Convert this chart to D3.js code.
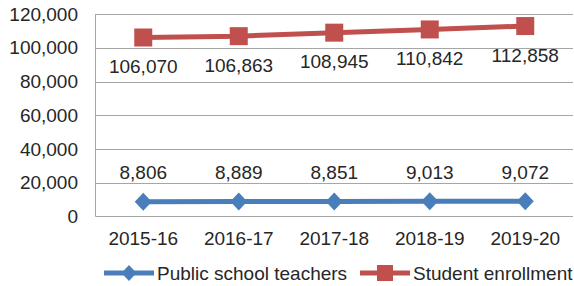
<!DOCTYPE html>
<html>
<head>
<meta charset="utf-8">
<script src="https://cdn.jsdelivr.net/npm/d3@7"></script>
<style>
  body { margin: 0; background: #fff; }
  svg text { font-family: "Liberation Sans", Arial, sans-serif; fill: #262626; }
</style>
</head>
<body>
<svg id="chart" width="574" height="286"></svg>
<script>
// data
var years = ["2015-16", "2016-17", "2017-18", "2018-19", "2019-20"]
var teachers = [8806, 8889, 8851, 9013, 9072]
var enrollment = [106070, 106863, 108945, 110842, 112858]
var yTicks = [0, 20000, 40000, 60000, 80000, 100000, 120000]

var svg = d3.select("#chart")
var mLeft = 95.5, mRight = 573, mTop = 14, mBottom = 216.5
var fs = 19

var x = d3.scaleBand().domain(years).range([mLeft, mRight])
var y = d3.scaleLinear().domain([0, 120000]).range([mBottom, mTop])
var fmt = d3.format(",")

// gridlines
svg.append("g").selectAll("line").data(yTicks.slice(1)).join("line")
  .attr("x1", mLeft).attr("x2", mRight)
  .attr("y1", d => Math.round(y(d)) + 0.5).attr("y2", d => Math.round(y(d)) + 0.5)
  .attr("stroke", "#a6a6a6").attr("stroke-width", 1)

// axes lines
svg.append("line").attr("x1", mLeft).attr("x2", mLeft).attr("y1", mTop).attr("y2", mBottom)
  .attr("stroke", "#a6a6a6")
svg.append("line").attr("x1", mLeft).attr("x2", mRight).attr("y1", mBottom).attr("y2", mBottom)
  .attr("stroke", "#a6a6a6")

// y labels
svg.append("g").selectAll("text").data(yTicks).join("text")
  .attr("x", 78).attr("y", d => y(d)).attr("dy", "0.35em")
  .attr("text-anchor", "end").attr("font-size", fs)
  .text(d => fmt(d))

// x labels
svg.append("g").selectAll("text").data(years).join("text")
  .attr("x", d => x(d) + x.bandwidth() / 2).attr("y", 238).attr("dy", "0.35em")
  .attr("text-anchor", "middle").attr("font-size", fs)
  .text(d => d)

var blue = "#4a7ebb", red = "#c0504d"
var cx = d => x(d) + x.bandwidth() / 2

var line = d3.line().x((d, i) => cx(years[i])).y(d => y(d))

// teachers
svg.append("path").datum(teachers).attr("d", line)
  .attr("fill", "none").attr("stroke", blue).attr("stroke-width", 5)
svg.append("g").selectAll("path").data(teachers).join("path")
  .attr("transform", (d, i) => "translate(" + cx(years[i]) + "," + y(d) + ")")
  .attr("d", "M0,-9L8.5,0L0,9L-8.5,0Z").attr("fill", blue)
svg.append("g").selectAll("text").data(teachers).join("text")
  .attr("x", (d, i) => cx(years[i])).attr("y", d => y(d) - 29).attr("dy", "0.35em")
  .attr("text-anchor", "middle").attr("font-size", fs)
  .text(d => fmt(d))

// enrollment
svg.append("path").datum(enrollment).attr("d", line)
  .attr("fill", "none").attr("stroke", red).attr("stroke-width", 5)
svg.append("g").selectAll("rect").data(enrollment).join("rect")
  .attr("x", (d, i) => cx(years[i]) - 9).attr("y", d => y(d) - 9)
  .attr("width", 18).attr("height", 18).attr("fill", red)
svg.append("g").selectAll("text").data(enrollment).join("text")
  .attr("x", (d, i) => cx(years[i])).attr("y", d => y(d) + 29).attr("dy", "0.35em")
  .attr("text-anchor", "middle").attr("font-size", fs)
  .text(d => fmt(d))

// legend
var lg = svg.append("g")
lg.append("line").attr("x1", 104).attr("x2", 154).attr("y1", 273).attr("y2", 273)
  .attr("stroke", blue).attr("stroke-width", 5)
lg.append("path").attr("transform", "translate(129,273)")
  .attr("d", "M0,-8L7.5,0L0,8L-7.5,0Z").attr("fill", blue)
lg.append("text").attr("x", 157).attr("y", 273).attr("dy", "0.35em").attr("font-size", fs)
  .text("Public school teachers")
lg.append("line").attr("x1", 360).attr("x2", 410).attr("y1", 273).attr("y2", 273)
  .attr("stroke", red).attr("stroke-width", 5)
lg.append("rect").attr("x", 377).attr("y", 265).attr("width", 16).attr("height", 16).attr("fill", red)
lg.append("text").attr("x", 413).attr("y", 273).attr("dy", "0.35em").attr("font-size", fs)
  .text("Student enrollment")
</script>
</body>
</html>
